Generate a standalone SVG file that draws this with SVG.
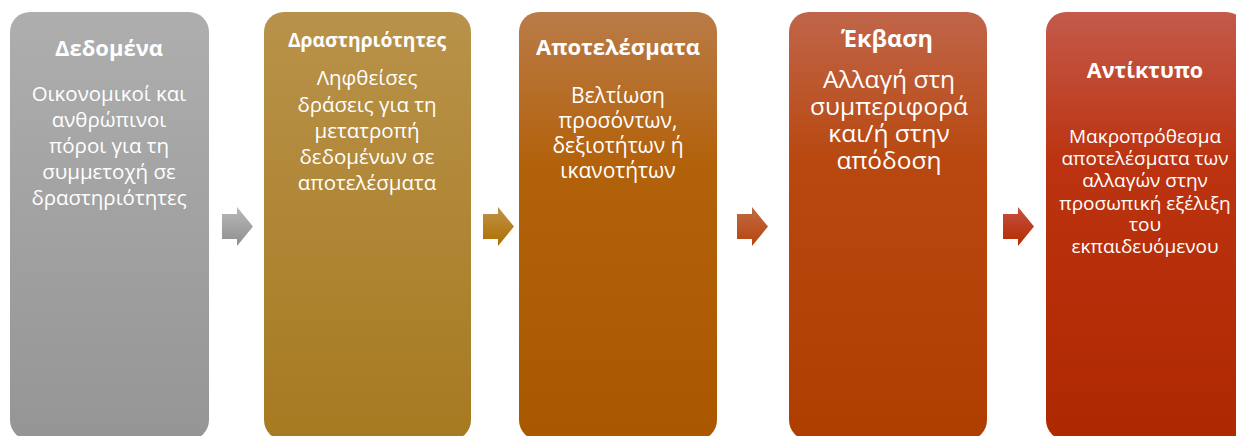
<svg xmlns="http://www.w3.org/2000/svg" width="1236" height="436" viewBox="0 0 1236 436">
<defs>
<linearGradient id="g1" x1="0" y1="0" x2="0" y2="1"><stop offset="0" stop-color="#aeaeae"/><stop offset="1" stop-color="#959595"/></linearGradient>
<linearGradient id="g2" x1="0" y1="0" x2="0" y2="1"><stop offset="0" stop-color="#b9924a"/><stop offset="1" stop-color="#a67a20"/></linearGradient>
<linearGradient id="g3" x1="0" y1="0" x2="0" y2="1"><stop offset="0" stop-color="#b97b47"/><stop offset="0.35" stop-color="#b3620c"/><stop offset="1" stop-color="#a95800"/></linearGradient>
<linearGradient id="g4" x1="0" y1="0" x2="0" y2="1"><stop offset="0" stop-color="#c0654a"/><stop offset="0.35" stop-color="#b8480f"/><stop offset="1" stop-color="#ae3e00"/></linearGradient>
<linearGradient id="g5" x1="0" y1="0" x2="0" y2="1"><stop offset="0" stop-color="#c45a4b"/><stop offset="0.35" stop-color="#bb3310"/><stop offset="1" stop-color="#ae2800"/></linearGradient>
<linearGradient id="a1" x1="0" y1="0" x2="0" y2="1"><stop offset="0" stop-color="#b8b8b8"/><stop offset="1" stop-color="#8f8f8f"/></linearGradient>
<linearGradient id="a2" x1="0" y1="0" x2="0" y2="1"><stop offset="0" stop-color="#c0924a"/><stop offset="1" stop-color="#ae6e00"/></linearGradient>
<linearGradient id="a3" x1="0" y1="0" x2="0" y2="1"><stop offset="0" stop-color="#c46a40"/><stop offset="1" stop-color="#b24510"/></linearGradient>
<linearGradient id="a4" x1="0" y1="0" x2="0" y2="1"><stop offset="0" stop-color="#c65040"/><stop offset="1" stop-color="#b42a00"/></linearGradient>
<path id="arrow" d="M0,7 H15 V0 L31,19.5 L15,39 V32 H0 Z"/>
</defs>
<style>
text{font-family:"Open Sans","Noto Sans",sans-serif;fill:#ffffff;text-anchor:middle}
.t{font-weight:bold}
</style>
<rect width="1236" height="436" fill="#ffffff"/>
<g id="connectors">
<use href="#arrow" x="222" y="207" fill="url(#a1)"/>
<use href="#arrow" x="483" y="207" fill="url(#a2)"/>
<use href="#arrow" x="737" y="207" fill="url(#a3)"/>
<use href="#arrow" x="1003" y="207" fill="url(#a4)"/>
</g>
<g id="n1">
<rect x="10" y="12" width="199" height="428" rx="20" fill="url(#g1)"/>
<text class="t" x="109" y="56" font-size="22">Δεδομένα</text>
<text x="109" y="101" font-size="20.5"><tspan x="109">Οικονομικοί και</tspan><tspan x="109" dy="26">ανθρώπινοι</tspan><tspan x="109" dy="26">πόροι για τη</tspan><tspan x="109" dy="26">συμμετοχή σε</tspan><tspan x="109" dy="26">δραστηριότητες</tspan></text>
</g>
<g id="n2">
<rect x="264" y="12" width="207" height="428" rx="20" fill="url(#g2)"/>
<text class="t" x="367" y="47" font-size="19.3">Δραστηριότητες</text>
<text x="367" y="85" font-size="20.5"><tspan x="367">Ληφθείσες</tspan><tspan x="367" dy="26.5">δράσεις για τη</tspan><tspan x="367" dy="26">μετατροπή</tspan><tspan x="367" dy="26">δεδομένων σε</tspan><tspan x="367" dy="26.5">αποτελέσματα</tspan></text>
</g>
<g id="n3">
<rect x="519" y="12" width="198" height="428" rx="20" fill="url(#g3)"/>
<text class="t" x="618" y="55" font-size="22">Αποτελέσματα</text>
<text x="618" y="103" font-size="21"><tspan x="618">Βελτίωση</tspan><tspan x="618" dy="25">προσόντων,</tspan><tspan x="618" dy="25">δεξιοτήτων ή</tspan><tspan x="618" dy="25">ικανοτήτων</tspan></text>
</g>
<g id="n4">
<rect x="789" y="12" width="198" height="428" rx="20" fill="url(#g4)"/>
<text class="t" x="887" y="47" font-size="23.5">Έκβαση</text>
<text x="889" y="88" font-size="24.5"><tspan x="889">Αλλαγή στη</tspan><tspan x="889" dy="27">συμπεριφορά</tspan><tspan x="889" dy="27">και/ή στην</tspan><tspan x="889" dy="27">απόδοση</tspan></text>
</g>
<g id="n5">
<rect x="1046" y="12" width="200" height="428" rx="20" fill="url(#g5)"/>
<text class="t" x="1145" y="78" font-size="21.6">Αντίκτυπο</text>
<text x="1145" y="143" font-size="19"><tspan x="1145">Μακροπρόθεσμα</tspan><tspan x="1145" dy="22">αποτελέσματα των</tspan><tspan x="1145" dy="22">αλλαγών στην</tspan><tspan x="1145" dy="22.5">προσωπική εξέλιξη</tspan><tspan x="1145" dy="21.5">του</tspan><tspan x="1145" dy="22">εκπαιδευόμενου</tspan></text>
</g>
</svg>
